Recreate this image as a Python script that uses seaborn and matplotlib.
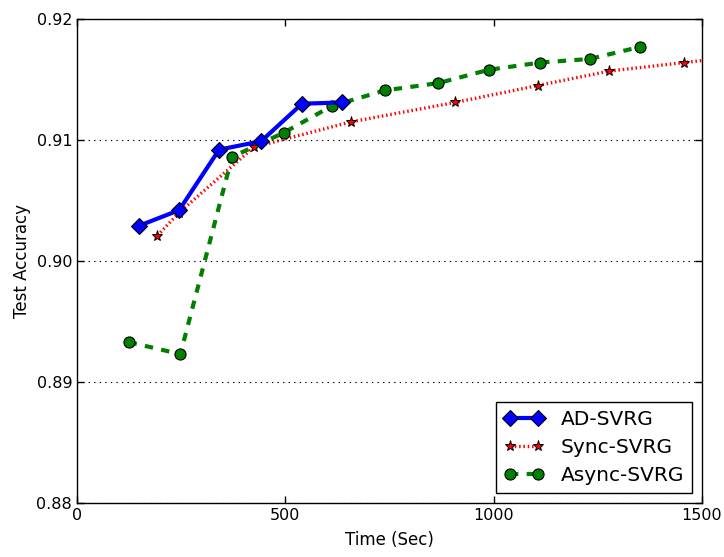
import matplotlib
matplotlib.use("Agg")
import matplotlib.pyplot as plt
import seaborn as sns
import pandas as pd

# Test accuracy over wall-clock time for three SVRG variants
ad_time = [148, 245, 341, 442, 540, 637]
ad_acc = [0.9029, 0.9042, 0.9092, 0.9099, 0.9130, 0.9131]

sync_time = [193, 245, 424, 658, 907, 1106, 1278, 1457, 1640]
sync_acc = [0.9021, 0.9040, 0.9094, 0.9115, 0.9131, 0.9145, 0.9157, 0.9164, 0.9171]

async_time = [124, 248, 372, 496, 611, 739, 867, 988, 1112, 1231, 1352]
async_acc = [0.8933, 0.8923, 0.9086, 0.9106, 0.9128, 0.9141, 0.9147, 0.9158, 0.9164, 0.9167, 0.9177]

series_names = ["AD-SVRG", "Sync-SVRG", "Async-SVRG"]
x_ticks = [0, 500, 1000, 1500]
y_ticks = [0.88, 0.89, 0.90, 0.91, 0.92]

sns.set_style("white", {
    "xtick.direction": "in",
    "ytick.direction": "in",
    "axes.edgecolor": "black",
})
plt.rcParams["font.family"] = ["DejaVu Sans"]
plt.rcParams["xtick.top"] = True
plt.rcParams["ytick.right"] = True
plt.rcParams["xtick.bottom"] = True
plt.rcParams["ytick.left"] = True
plt.rcParams["lines.scale_dashes"] = False
plt.rcParams["text.color"] = "black"

fig = plt.figure(figsize=(7.24, 5.57), dpi=100)
ax = fig.add_axes([0.1064, 0.097, 0.8632, 0.8689])

ad_df = pd.DataFrame({"t": ad_time, "acc": ad_acc})
sync_df = pd.DataFrame({"t": sync_time, "acc": sync_acc})
async_df = pd.DataFrame({"t": async_time, "acc": async_acc})

sns.lineplot(data=ad_df, x="t", y="acc", ax=ax, estimator=None, sort=False,
             color=(0, 0, 1), linewidth=3.0, linestyle="-",
             marker="D", markersize=8, markeredgecolor="black",
             markeredgewidth=0.8, label=series_names[0], zorder=3)
sns.lineplot(data=sync_df, x="t", y="acc", ax=ax, estimator=None, sort=False,
             color=(1, 0, 0), linewidth=2.4, linestyle=(0, (1.1, 2.0)),
             marker="*", markersize=8, markeredgecolor="black",
             markeredgewidth=0.7, label=series_names[1], zorder=2)
sns.lineplot(data=async_df, x="t", y="acc", ax=ax, estimator=None, sort=False,
             color=(0, 0.5, 0), linewidth=3.0, linestyle=(0, (6, 6)),
             marker="o", markersize=8, markeredgecolor="black",
             markeredgewidth=0.8, label=series_names[2], zorder=2.5)

ax.set_xlim(0, 1500)
ax.set_ylim(0.88, 0.92)
ax.set_xticks(x_ticks)
ax.set_yticks(y_ticks)
ax.set_xticklabels([str(v) for v in x_ticks])
ax.set_yticklabels([f"{v:.2f}" for v in y_ticks])
ax.tick_params(axis="both", which="major", length=5, width=1, labelsize=11.5,
               color="black", labelcolor="black")
ax.yaxis.grid(True, linestyle=(0, (1, 3)), color="black", linewidth=0.8)
ax.xaxis.grid(False)
for sp in ax.spines.values():
    sp.set_linewidth(1.0)
    sp.set_color("black")

ax.set_xlabel("Time (Sec)", fontsize=12, color="black", labelpad=6)
ax.set_ylabel("Test Accuracy", fontsize=12, color="black", labelpad=4)

leg = ax.legend(loc="lower right", numpoints=2, fontsize=14.5, frameon=True,
                fancybox=False, edgecolor="black", framealpha=1,
                handlelength=2.0, borderaxespad=0.5, labelspacing=0.45)
leg.get_frame().set_linewidth(1.0)
for t in leg.get_texts():
    t.set_color("black")

fig.savefig("out.png", dpi=100)
